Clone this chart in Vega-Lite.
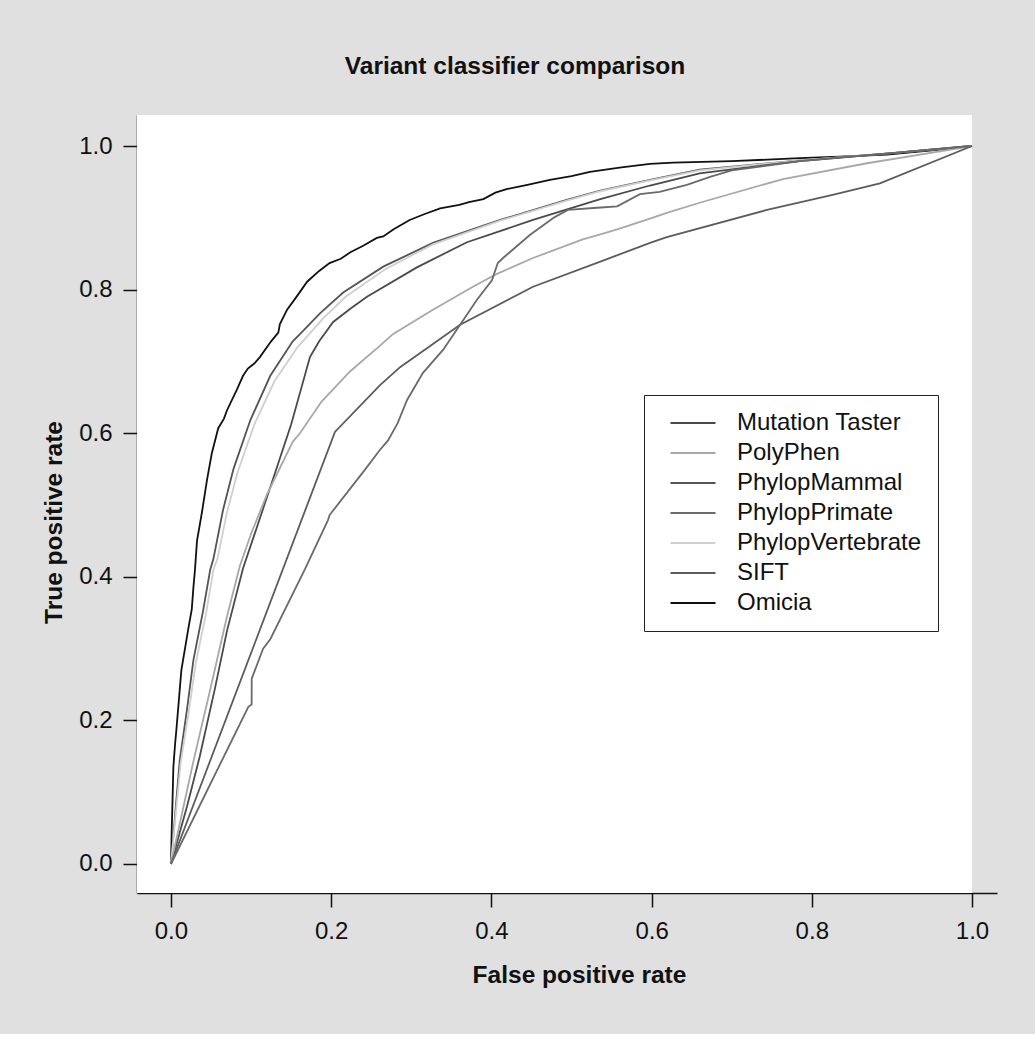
{
  "$schema": "https://vega.github.io/schema/vega-lite/v6.json",
  "autosize": {"type": "none"},
  "width": 860,
  "height": 778,
  "padding": {"left": 137, "top": 115, "right": 38, "bottom": 141},
  "background": "#e0e0e0",
  "title": {"text": "Variant classifier comparison", "fontSize": 24.5, "fontWeight": "bold", "color": "#111", "anchor": "middle", "offset": 36, "dx": -52},
  "config": {
    "view": {"stroke": null},
    "font": "Liberation Sans, Arial, Helvetica, sans-serif",
    "axis": {"domainColor": "#111", "domainWidth": 1.5, "tickColor": "#111", "tickWidth": 1.5, "tickSize": 14, "labelFontSize": 24, "labelColor": "#111", "titleFontSize": 24.5, "titleFontWeight": "bold", "titleColor": "#111", "grid": false, "labelFlush": false, "labelOverlap": false},
    "axisX": {"labelPadding": 12, "titlePadding": 20},
    "axisY": {"labelPadding": 11, "titlePadding": 12}
  },
  "layer": [
    {
      "data": {"values": [{}]},
      "mark": {"type": "rect", "color": "white"},
      "encoding": {
        "x": {"datum": -0.0424, "type": "quantitative", "scale": {"domain": [-0.0424, 1.0312], "nice": false, "zero": false}, "axis": {"title": "False positive rate", "values": [0, 0.2, 0.4, 0.6, 0.8, 1], "format": ".1f", "titleX": 442}},
        "x2": {"datum": 1.0},
        "y": {"datum": -0.0404, "type": "quantitative", "scale": {"domain": [-0.0404, 1.0432], "nice": false, "zero": false}, "axis": {"title": "True positive rate", "values": [0, 0.2, 0.4, 0.6, 0.8, 1], "format": ".1f", "titleY": 407}},
        "y2": {"datum": 1.0432}
      }
    },
    {
      "data": {"values": [
        {"classifier": "Omicia", "fpr": 0, "tpr": 0},
        {"classifier": "Omicia", "fpr": 0.001, "tpr": 0.05},
        {"classifier": "Omicia", "fpr": 0.002, "tpr": 0.09},
        {"classifier": "Omicia", "fpr": 0.003, "tpr": 0.135},
        {"classifier": "Omicia", "fpr": 0.005, "tpr": 0.165},
        {"classifier": "Omicia", "fpr": 0.007, "tpr": 0.19},
        {"classifier": "Omicia", "fpr": 0.010, "tpr": 0.23},
        {"classifier": "Omicia", "fpr": 0.013, "tpr": 0.27},
        {"classifier": "Omicia", "fpr": 0.0175, "tpr": 0.30},
        {"classifier": "Omicia", "fpr": 0.022, "tpr": 0.33},
        {"classifier": "Omicia", "fpr": 0.026, "tpr": 0.355},
        {"classifier": "Omicia", "fpr": 0.028, "tpr": 0.385},
        {"classifier": "Omicia", "fpr": 0.030, "tpr": 0.41},
        {"classifier": "Omicia", "fpr": 0.0325, "tpr": 0.45},
        {"classifier": "Omicia", "fpr": 0.0387, "tpr": 0.49},
        {"classifier": "Omicia", "fpr": 0.045, "tpr": 0.535},
        {"classifier": "Omicia", "fpr": 0.051, "tpr": 0.572},
        {"classifier": "Omicia", "fpr": 0.059, "tpr": 0.607},
        {"classifier": "Omicia", "fpr": 0.066, "tpr": 0.62},
        {"classifier": "Omicia", "fpr": 0.070, "tpr": 0.632},
        {"classifier": "Omicia", "fpr": 0.082, "tpr": 0.66},
        {"classifier": "Omicia", "fpr": 0.090, "tpr": 0.68},
        {"classifier": "Omicia", "fpr": 0.096, "tpr": 0.69},
        {"classifier": "Omicia", "fpr": 0.104, "tpr": 0.697},
        {"classifier": "Omicia", "fpr": 0.111, "tpr": 0.706},
        {"classifier": "Omicia", "fpr": 0.125, "tpr": 0.728},
        {"classifier": "Omicia", "fpr": 0.134, "tpr": 0.74},
        {"classifier": "Omicia", "fpr": 0.136, "tpr": 0.752},
        {"classifier": "Omicia", "fpr": 0.145, "tpr": 0.772},
        {"classifier": "Omicia", "fpr": 0.158, "tpr": 0.792},
        {"classifier": "Omicia", "fpr": 0.170, "tpr": 0.811},
        {"classifier": "Omicia", "fpr": 0.185, "tpr": 0.826},
        {"classifier": "Omicia", "fpr": 0.198, "tpr": 0.837},
        {"classifier": "Omicia", "fpr": 0.212, "tpr": 0.843},
        {"classifier": "Omicia", "fpr": 0.224, "tpr": 0.852},
        {"classifier": "Omicia", "fpr": 0.240, "tpr": 0.861},
        {"classifier": "Omicia", "fpr": 0.257, "tpr": 0.872},
        {"classifier": "Omicia", "fpr": 0.265, "tpr": 0.874},
        {"classifier": "Omicia", "fpr": 0.278, "tpr": 0.884},
        {"classifier": "Omicia", "fpr": 0.298, "tpr": 0.897},
        {"classifier": "Omicia", "fpr": 0.316, "tpr": 0.905},
        {"classifier": "Omicia", "fpr": 0.336, "tpr": 0.913},
        {"classifier": "Omicia", "fpr": 0.360, "tpr": 0.918},
        {"classifier": "Omicia", "fpr": 0.372, "tpr": 0.922},
        {"classifier": "Omicia", "fpr": 0.390, "tpr": 0.926},
        {"classifier": "Omicia", "fpr": 0.405, "tpr": 0.935},
        {"classifier": "Omicia", "fpr": 0.419, "tpr": 0.940},
        {"classifier": "Omicia", "fpr": 0.445, "tpr": 0.946},
        {"classifier": "Omicia", "fpr": 0.473, "tpr": 0.953},
        {"classifier": "Omicia", "fpr": 0.500, "tpr": 0.958},
        {"classifier": "Omicia", "fpr": 0.523, "tpr": 0.964},
        {"classifier": "Omicia", "fpr": 0.560, "tpr": 0.970},
        {"classifier": "Omicia", "fpr": 0.598, "tpr": 0.975},
        {"classifier": "Omicia", "fpr": 0.627, "tpr": 0.977},
        {"classifier": "Omicia", "fpr": 0.700, "tpr": 0.979},
        {"classifier": "Omicia", "fpr": 0.785, "tpr": 0.983},
        {"classifier": "Omicia", "fpr": 0.850, "tpr": 0.986},
        {"classifier": "Omicia", "fpr": 0.894, "tpr": 0.988},
        {"classifier": "Omicia", "fpr": 0.950, "tpr": 0.994},
        {"classifier": "Omicia", "fpr": 1, "tpr": 1},

        {"classifier": "PhylopMammal", "fpr": 0, "tpr": 0},
        {"classifier": "PhylopMammal", "fpr": 0.011, "tpr": 0.145},
        {"classifier": "PhylopMammal", "fpr": 0.020, "tpr": 0.215},
        {"classifier": "PhylopMammal", "fpr": 0.028, "tpr": 0.284},
        {"classifier": "PhylopMammal", "fpr": 0.040, "tpr": 0.352},
        {"classifier": "PhylopMammal", "fpr": 0.049, "tpr": 0.41},
        {"classifier": "PhylopMammal", "fpr": 0.053, "tpr": 0.425},
        {"classifier": "PhylopMammal", "fpr": 0.065, "tpr": 0.493},
        {"classifier": "PhylopMammal", "fpr": 0.078, "tpr": 0.55},
        {"classifier": "PhylopMammal", "fpr": 0.099, "tpr": 0.618},
        {"classifier": "PhylopMammal", "fpr": 0.124, "tpr": 0.68},
        {"classifier": "PhylopMammal", "fpr": 0.152, "tpr": 0.728},
        {"classifier": "PhylopMammal", "fpr": 0.161, "tpr": 0.738},
        {"classifier": "PhylopMammal", "fpr": 0.186, "tpr": 0.767},
        {"classifier": "PhylopMammal", "fpr": 0.215, "tpr": 0.796},
        {"classifier": "PhylopMammal", "fpr": 0.265, "tpr": 0.832},
        {"classifier": "PhylopMammal", "fpr": 0.327, "tpr": 0.865},
        {"classifier": "PhylopMammal", "fpr": 0.411, "tpr": 0.897},
        {"classifier": "PhylopMammal", "fpr": 0.494, "tpr": 0.925},
        {"classifier": "PhylopMammal", "fpr": 0.536, "tpr": 0.938},
        {"classifier": "PhylopMammal", "fpr": 0.598, "tpr": 0.953},
        {"classifier": "PhylopMammal", "fpr": 0.66, "tpr": 0.967},
        {"classifier": "PhylopMammal", "fpr": 0.785, "tpr": 0.98},
        {"classifier": "PhylopMammal", "fpr": 0.9, "tpr": 0.99},
        {"classifier": "PhylopMammal", "fpr": 1, "tpr": 1},

        {"classifier": "PhylopVertebrate", "fpr": 0, "tpr": 0},
        {"classifier": "PhylopVertebrate", "fpr": 0.012, "tpr": 0.14},
        {"classifier": "PhylopVertebrate", "fpr": 0.022, "tpr": 0.21},
        {"classifier": "PhylopVertebrate", "fpr": 0.031, "tpr": 0.28},
        {"classifier": "PhylopVertebrate", "fpr": 0.044, "tpr": 0.35},
        {"classifier": "PhylopVertebrate", "fpr": 0.053, "tpr": 0.41},
        {"classifier": "PhylopVertebrate", "fpr": 0.058, "tpr": 0.425},
        {"classifier": "PhylopVertebrate", "fpr": 0.070, "tpr": 0.49},
        {"classifier": "PhylopVertebrate", "fpr": 0.083, "tpr": 0.545},
        {"classifier": "PhylopVertebrate", "fpr": 0.104, "tpr": 0.612},
        {"classifier": "PhylopVertebrate", "fpr": 0.129, "tpr": 0.672},
        {"classifier": "PhylopVertebrate", "fpr": 0.158, "tpr": 0.72},
        {"classifier": "PhylopVertebrate", "fpr": 0.167, "tpr": 0.731},
        {"classifier": "PhylopVertebrate", "fpr": 0.19, "tpr": 0.76},
        {"classifier": "PhylopVertebrate", "fpr": 0.218, "tpr": 0.79},
        {"classifier": "PhylopVertebrate", "fpr": 0.267, "tpr": 0.828},
        {"classifier": "PhylopVertebrate", "fpr": 0.327, "tpr": 0.863},
        {"classifier": "PhylopVertebrate", "fpr": 0.411, "tpr": 0.896},
        {"classifier": "PhylopVertebrate", "fpr": 0.494, "tpr": 0.924},
        {"classifier": "PhylopVertebrate", "fpr": 0.536, "tpr": 0.937},
        {"classifier": "PhylopVertebrate", "fpr": 0.598, "tpr": 0.952},
        {"classifier": "PhylopVertebrate", "fpr": 0.66, "tpr": 0.966},
        {"classifier": "PhylopVertebrate", "fpr": 0.785, "tpr": 0.98},
        {"classifier": "PhylopVertebrate", "fpr": 0.9, "tpr": 0.99},
        {"classifier": "PhylopVertebrate", "fpr": 1, "tpr": 1},

        {"classifier": "Mutation Taster", "fpr": 0, "tpr": 0},
        {"classifier": "Mutation Taster", "fpr": 0.02, "tpr": 0.08},
        {"classifier": "Mutation Taster", "fpr": 0.036, "tpr": 0.15},
        {"classifier": "Mutation Taster", "fpr": 0.055, "tpr": 0.245},
        {"classifier": "Mutation Taster", "fpr": 0.07, "tpr": 0.325},
        {"classifier": "Mutation Taster", "fpr": 0.09, "tpr": 0.412},
        {"classifier": "Mutation Taster", "fpr": 0.11, "tpr": 0.478},
        {"classifier": "Mutation Taster", "fpr": 0.13, "tpr": 0.545},
        {"classifier": "Mutation Taster", "fpr": 0.15, "tpr": 0.612},
        {"classifier": "Mutation Taster", "fpr": 0.162, "tpr": 0.66},
        {"classifier": "Mutation Taster", "fpr": 0.1735, "tpr": 0.706},
        {"classifier": "Mutation Taster", "fpr": 0.185, "tpr": 0.728},
        {"classifier": "Mutation Taster", "fpr": 0.2025, "tpr": 0.755},
        {"classifier": "Mutation Taster", "fpr": 0.2247, "tpr": 0.774},
        {"classifier": "Mutation Taster", "fpr": 0.2447, "tpr": 0.79},
        {"classifier": "Mutation Taster", "fpr": 0.307, "tpr": 0.831},
        {"classifier": "Mutation Taster", "fpr": 0.3695, "tpr": 0.866},
        {"classifier": "Mutation Taster", "fpr": 0.452, "tpr": 0.897},
        {"classifier": "Mutation Taster", "fpr": 0.536, "tpr": 0.926},
        {"classifier": "Mutation Taster", "fpr": 0.598, "tpr": 0.945},
        {"classifier": "Mutation Taster", "fpr": 0.66, "tpr": 0.962},
        {"classifier": "Mutation Taster", "fpr": 0.785, "tpr": 0.979},
        {"classifier": "Mutation Taster", "fpr": 0.9, "tpr": 0.99},
        {"classifier": "Mutation Taster", "fpr": 1, "tpr": 1},

        {"classifier": "PolyPhen", "fpr": 0, "tpr": 0},
        {"classifier": "PolyPhen", "fpr": 0.028, "tpr": 0.143},
        {"classifier": "PolyPhen", "fpr": 0.049, "tpr": 0.243},
        {"classifier": "PolyPhen", "fpr": 0.070, "tpr": 0.345},
        {"classifier": "PolyPhen", "fpr": 0.086, "tpr": 0.415},
        {"classifier": "PolyPhen", "fpr": 0.10, "tpr": 0.46},
        {"classifier": "PolyPhen", "fpr": 0.12, "tpr": 0.515},
        {"classifier": "PolyPhen", "fpr": 0.152, "tpr": 0.588},
        {"classifier": "PolyPhen", "fpr": 0.161, "tpr": 0.600},
        {"classifier": "PolyPhen", "fpr": 0.188, "tpr": 0.644},
        {"classifier": "PolyPhen", "fpr": 0.2235, "tpr": 0.686},
        {"classifier": "PolyPhen", "fpr": 0.261, "tpr": 0.722},
        {"classifier": "PolyPhen", "fpr": 0.277, "tpr": 0.738},
        {"classifier": "PolyPhen", "fpr": 0.327, "tpr": 0.772},
        {"classifier": "PolyPhen", "fpr": 0.377, "tpr": 0.804},
        {"classifier": "PolyPhen", "fpr": 0.407, "tpr": 0.822},
        {"classifier": "PolyPhen", "fpr": 0.452, "tpr": 0.844},
        {"classifier": "PolyPhen", "fpr": 0.514, "tpr": 0.870},
        {"classifier": "PolyPhen", "fpr": 0.536, "tpr": 0.877},
        {"classifier": "PolyPhen", "fpr": 0.557, "tpr": 0.884},
        {"classifier": "PolyPhen", "fpr": 0.598, "tpr": 0.899},
        {"classifier": "PolyPhen", "fpr": 0.619, "tpr": 0.907},
        {"classifier": "PolyPhen", "fpr": 0.66, "tpr": 0.921},
        {"classifier": "PolyPhen", "fpr": 0.764, "tpr": 0.954},
        {"classifier": "PolyPhen", "fpr": 0.869, "tpr": 0.976},
        {"classifier": "PolyPhen", "fpr": 1, "tpr": 1},

        {"classifier": "SIFT", "fpr": 0, "tpr": 0},
        {"classifier": "SIFT", "fpr": 0.2047, "tpr": 0.6017},
        {"classifier": "SIFT", "fpr": 0.261, "tpr": 0.667},
        {"classifier": "SIFT", "fpr": 0.286, "tpr": 0.692},
        {"classifier": "SIFT", "fpr": 0.361, "tpr": 0.751},
        {"classifier": "SIFT", "fpr": 0.452, "tpr": 0.804},
        {"classifier": "SIFT", "fpr": 0.536, "tpr": 0.839},
        {"classifier": "SIFT", "fpr": 0.598, "tpr": 0.865},
        {"classifier": "SIFT", "fpr": 0.619, "tpr": 0.873},
        {"classifier": "SIFT", "fpr": 0.744, "tpr": 0.911},
        {"classifier": "SIFT", "fpr": 0.826, "tpr": 0.932},
        {"classifier": "SIFT", "fpr": 0.885, "tpr": 0.948},
        {"classifier": "SIFT", "fpr": 1, "tpr": 1},

        {"classifier": "PhylopPrimate", "fpr": 0, "tpr": 0},
        {"classifier": "PhylopPrimate", "fpr": 0.0966, "tpr": 0.219},
        {"classifier": "PhylopPrimate", "fpr": 0.1007, "tpr": 0.222},
        {"classifier": "PhylopPrimate", "fpr": 0.1008, "tpr": 0.258},
        {"classifier": "PhylopPrimate", "fpr": 0.115, "tpr": 0.300},
        {"classifier": "PhylopPrimate", "fpr": 0.124, "tpr": 0.313},
        {"classifier": "PhylopPrimate", "fpr": 0.167, "tpr": 0.41},
        {"classifier": "PhylopPrimate", "fpr": 0.196, "tpr": 0.479},
        {"classifier": "PhylopPrimate", "fpr": 0.198, "tpr": 0.486},
        {"classifier": "PhylopPrimate", "fpr": 0.242, "tpr": 0.549},
        {"classifier": "PhylopPrimate", "fpr": 0.261, "tpr": 0.577},
        {"classifier": "PhylopPrimate", "fpr": 0.271, "tpr": 0.590},
        {"classifier": "PhylopPrimate", "fpr": 0.283, "tpr": 0.614},
        {"classifier": "PhylopPrimate", "fpr": 0.2946, "tpr": 0.646},
        {"classifier": "PhylopPrimate", "fpr": 0.3146, "tpr": 0.684},
        {"classifier": "PhylopPrimate", "fpr": 0.3396, "tpr": 0.716},
        {"classifier": "PhylopPrimate", "fpr": 0.361, "tpr": 0.751},
        {"classifier": "PhylopPrimate", "fpr": 0.382, "tpr": 0.786},
        {"classifier": "PhylopPrimate", "fpr": 0.4007, "tpr": 0.813},
        {"classifier": "PhylopPrimate", "fpr": 0.408, "tpr": 0.837},
        {"classifier": "PhylopPrimate", "fpr": 0.4145, "tpr": 0.844},
        {"classifier": "PhylopPrimate", "fpr": 0.448, "tpr": 0.876},
        {"classifier": "PhylopPrimate", "fpr": 0.479, "tpr": 0.901},
        {"classifier": "PhylopPrimate", "fpr": 0.4956, "tpr": 0.911},
        {"classifier": "PhylopPrimate", "fpr": 0.532, "tpr": 0.914},
        {"classifier": "PhylopPrimate", "fpr": 0.557, "tpr": 0.916},
        {"classifier": "PhylopPrimate", "fpr": 0.5855, "tpr": 0.933},
        {"classifier": "PhylopPrimate", "fpr": 0.61, "tpr": 0.936},
        {"classifier": "PhylopPrimate", "fpr": 0.644, "tpr": 0.946},
        {"classifier": "PhylopPrimate", "fpr": 0.673, "tpr": 0.957},
        {"classifier": "PhylopPrimate", "fpr": 0.70, "tpr": 0.966},
        {"classifier": "PhylopPrimate", "fpr": 0.785, "tpr": 0.979},
        {"classifier": "PhylopPrimate", "fpr": 0.9, "tpr": 0.99},
        {"classifier": "PhylopPrimate", "fpr": 1, "tpr": 1}
      ]},
      "mark": {"type": "line", "strokeWidth": 1.8},
      "encoding": {
        "x": {"field": "fpr", "type": "quantitative", "scale": {"domain": [-0.0424, 1.0312], "nice": false, "zero": false}, "axis": {"title": "False positive rate", "values": [0, 0.2, 0.4, 0.6, 0.8, 1], "format": ".1f", "titleX": 442}},
        "y": {"field": "tpr", "type": "quantitative", "scale": {"domain": [-0.0404, 1.0432], "nice": false, "zero": false}, "axis": {"title": "True positive rate", "values": [0, 0.2, 0.4, 0.6, 0.8, 1], "format": ".1f", "titleY": 407}},
        "color": {
          "field": "classifier", "type": "nominal",
          "scale": {"domain": ["Mutation Taster", "PolyPhen", "PhylopMammal", "PhylopPrimate", "PhylopVertebrate", "SIFT", "Omicia"], "range": ["#4a4a4a", "#a8a8a8", "#545454", "#6a6a6a", "#cfcfcf", "#5c5c5c", "#111111"]},
          "legend": {"orient": "none", "legendX": 507, "legendY": 280, "title": null, "symbolType": "M-2.5,0H2.5", "symbolSize": 324, "symbolStrokeWidth": 2, "symbolOffset": 21, "labelFontSize": 24, "labelColor": "#111", "labelOffset": 32, "rowPadding": 6, "padding": 16, "strokeColor": "#222", "fillColor": "white", "labelLimit": 400}
        }
      }
    }
  ]
}
